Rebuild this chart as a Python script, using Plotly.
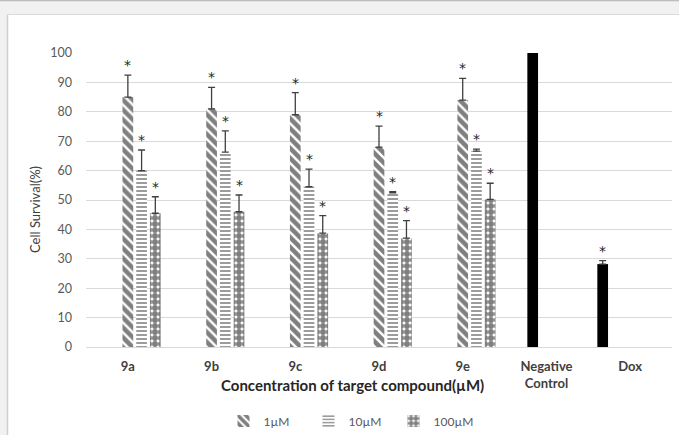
import plotly.graph_objects as go

categories = ["9a", "9b", "9c", "9d", "9e", "Negative Control", "Dox"]
tick_labels = ["<b>9a</b>", "<b>9b</b>", "<b>9c</b>", "<b>9d</b>", "<b>9e</b>",
               "<b>Negative</b><br><b>Control</b>", "<b>Dox</b>"]

# Series values (Cell survival %) and upper error bars
v_1uM = [85, 81, 79, 68, 84, None, None]
e_1uM = [7.5, 7.3, 7.5, 7.1, 7.4, 0, 0]
v_10uM = [60, 66.3, 54.5, 52.4, 66.6, None, None]
e_10uM = [7.0, 7.2, 6.0, 0.4, 0.7, 0, 0]
v_100uM = [45.5, 46, 38.7, 37, 50.2, None, None]
e_100uM = [5.6, 5.7, 6.0, 6.0, 5.5, 0, 0]
v_neg = [None, None, None, None, None, 100, None]
v_dox = [None, None, None, None, None, None, 28.2]
e_dox = [0, 0, 0, 0, 0, 0, 1.2]

# which bars carry a significance star
star_1uM = [1, 1, 1, 1, 1, 0, 0]
star_10uM = [1, 1, 1, 1, 1, 0, 0]
star_100uM = [1, 1, 1, 1, 1, 0, 0]
star_dox = [0, 0, 0, 0, 0, 0, 1]

FONT = "Lato"
xs = list(range(len(categories)))
bargap = 0.18
nslots = 5
slot = (1 - bargap) / nslots

err_style = dict(type="data", symmetric=False, color="#404040", thickness=1.3, width=3.5)

fig = go.Figure()
fig.add_trace(go.Bar(x=xs, y=v_dox, name="Dox", showlegend=False,
                     marker=dict(color="black", line=dict(width=0)),
                     error_y=dict(array=e_dox, arrayminus=[0] * 7, **err_style)))
fig.add_trace(go.Bar(x=xs, y=v_neg, name="Negative Control", showlegend=False,
                     marker=dict(color="black", line=dict(width=0))))
fig.add_trace(go.Bar(x=xs, y=v_1uM, name="1µM",
                     marker=dict(color="white", line=dict(width=0),
                                 pattern=dict(shape="\\", fgcolor="black", bgcolor="white",
                                              size=7, solidity=0.65)),
                     error_y=dict(array=e_1uM, arrayminus=[0] * 7, **err_style)))
fig.add_trace(go.Bar(x=xs, y=v_10uM, name="10µM",
                     marker=dict(color="white", line=dict(width=0),
                                 pattern=dict(shape="-", fgcolor="#222222", bgcolor="white",
                                              size=4, solidity=0.45)),
                     error_y=dict(array=e_10uM, arrayminus=[0] * 7, **err_style)))
fig.add_trace(go.Bar(x=xs, y=v_100uM, name="100µM",
                     marker=dict(color="white", line=dict(width=0),
                                 pattern=dict(shape=".", fgcolor="black", bgcolor="white",
                                              size=6, solidity=0.75)),
                     error_y=dict(array=e_100uM, arrayminus=[0] * 7, **err_style)))

annotations = []
series_for_stars = [
    (-2, v_dox, e_dox, star_dox),
    (0, v_1uM, e_1uM, star_1uM),
    (1, v_10uM, e_10uM, star_10uM),
    (2, v_100uM, e_100uM, star_100uM),
]
for k, vals, errs, stars in series_for_stars:
    for i in xs:
        if stars[i] and vals[i] is not None:
            annotations.append(dict(x=i + k * slot, y=vals[i] + errs[i], xref="x", yref="y",
                                    text="*", showarrow=False, yanchor="middle", yshift=10,
                                    font=dict(family="DejaVu Sans", size=14, color="#262626")))

W, H = 679, 435
L, R, T, B = 86, 7, 53, 88
pw, ph = W - L - R, H - T - B


def px_x(px):
    return (px - L) / pw


def px_y(py):
    return (H - B - py) / ph


# axis titles placed as annotations
annotations.append(dict(x=px_x(352), y=px_y(385), xref="paper", yref="paper",
                        text="<b>Concentration of target compound(µM)</b>", showarrow=False,
                        xanchor="center", yanchor="middle",
                        font=dict(family=FONT, size=15, color="#262626")))
annotations.append(dict(x=px_x(35), y=px_y(210), xref="paper", yref="paper",
                        text="Cell Survival(%)", showarrow=False, textangle=-90,
                        xanchor="center", yanchor="middle",
                        font=dict(family=FONT, size=13, color="#404040")))

shapes = [
    dict(type="rect", xref="paper", yref="paper", x0=px_x(7.5), x1=px_x(W + 2),
         y0=px_y(H + 2), y1=px_y(14.5), fillcolor="white", line=dict(width=0), layer="below"),
    dict(type="line", xref="paper", yref="paper", x0=px_x(7.5), x1=px_x(7.5),
         y0=px_y(H + 2), y1=px_y(14.5), line=dict(color="#cfcfcf", width=1.5), layer="below"),
    dict(type="line", xref="paper", yref="paper", x0=px_x(7.5), x1=px_x(W + 2),
         y0=px_y(14.5), y1=px_y(14.5), line=dict(color="#dadada", width=1), layer="below"),
    dict(type="line", xref="paper", yref="paper", x0=px_x(0), x1=px_x(W + 2),
         y0=px_y(0.5), y1=px_y(0.5), line=dict(color="#bdbdbd", width=1.5), layer="below"),
]

fig.update_layout(
    width=W, height=H,
    margin=dict(l=L, r=R, t=T, b=B, autoexpand=False),
    paper_bgcolor="#f1f1f1", plot_bgcolor="rgba(0,0,0,0)",
    barmode="group", bargap=bargap, bargroupgap=0.22,
    font=dict(family=FONT, color="#595959"),
    legend=dict(orientation="h", x=px_x(351), y=px_y(421), xanchor="center", yanchor="middle",
                font=dict(family=FONT, size=12, color="#595959"), bgcolor="rgba(0,0,0,0)",
                itemwidth=30, entrywidth=40, entrywidthmode="pixels", tracegroupgap=0),
    annotations=annotations, shapes=shapes,
    showlegend=True,
)
fig.update_xaxes(range=[-0.5, len(categories) - 0.5], tickmode="array", tickvals=xs,
                 ticktext=tick_labels, showgrid=False, zeroline=False, showline=False,
                 ticks="", ticklabelstandoff=10,
                 tickfont=dict(family=FONT, size=13, color="#404040"))
fig.update_yaxes(range=[0, 100], dtick=10, showgrid=True, gridcolor="#d9d9d9", gridwidth=1,
                 zeroline=True, zerolinecolor="#d9d9d9", zerolinewidth=1, showline=False,
                 ticks="", ticklabelstandoff=13,
                 tickfont=dict(family=FONT, size=12.5, color="#595959"))

fig.write_html("out.html", config={"displayModeBar": False},
               post_script="document.body.style.margin='0';document.body.style.padding='0';")
